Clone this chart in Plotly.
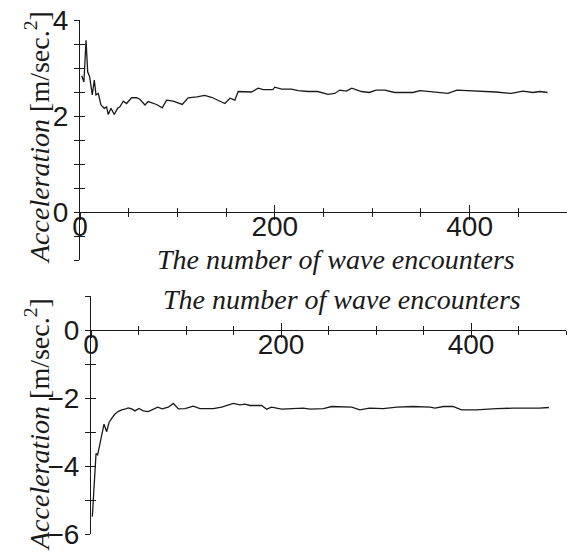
import plotly.graph_objects as go

# ---- data ----
top_n = [1.7, 4, 6.2, 7.9, 9.9, 12.6, 14.7, 16.4, 18.8, 21.5, 25, 27.3, 29, 31.8, 35.2, 38.6, 41,
         44.4, 47.8, 53, 58, 61.5, 66.7, 70, 78.6, 84.4, 88.9, 95.7, 105, 111, 120, 128, 135,
         148.7, 154, 159, 162.4, 169, 176, 183, 188, 198, 200, 207, 217, 224, 234, 244, 254.7,
         261.5, 266.7, 273.5, 279, 289, 297, 304, 313, 323, 333, 342, 349, 359, 369, 377.8,
         387, 400, 414, 427, 443, 454.7, 465, 472, 480]
top_acc = [2.84, 2.71, 3.58, 2.92, 2.82, 2.44, 2.75, 2.44, 2.47, 2.23, 2.16, 2.19, 2.03, 2.16, 2.03,
           2.16, 2.19, 2.31, 2.26, 2.38, 2.38, 2.35, 2.23, 2.30, 2.24, 2.17, 2.33, 2.31, 2.24,
           2.38, 2.40, 2.43, 2.39, 2.26, 2.37, 2.33, 2.51, 2.51, 2.50, 2.58, 2.55, 2.55, 2.60,
           2.56, 2.56, 2.53, 2.51, 2.51, 2.45, 2.47, 2.54, 2.52, 2.58, 2.51, 2.49, 2.54, 2.54,
           2.49, 2.49, 2.49, 2.53, 2.51, 2.49, 2.47, 2.54, 2.53, 2.52, 2.50, 2.47, 2.52, 2.49,
           2.51, 2.49]

bot_n = [1.4, 3.5, 5.3, 7, 8.8, 10.2, 11, 13.7, 16.5, 19, 21.8, 25, 28.5, 32.3, 36.5, 39.3, 42.8,
         46.3, 50.5, 55, 60.3, 65.6, 70.2, 75, 81.4, 86.7, 92, 99, 107.7, 114.7, 128.8, 137.5,
         149.8, 156.8, 162, 167.4, 179.6, 184.9, 190, 200.7, 213, 223.5, 230.5, 244.6, 253.3,
         265.6, 274.4, 283, 293, 307.7, 321.8, 339, 357, 362, 371, 381, 390, 405.6, 426.7,
         444, 458, 472, 482]
bot_acc = [-5.49, -4.26, -3.63, -3.67, -3.43, -3.14, -3.10, -2.77, -2.99, -2.72, -2.60, -2.48,
           -2.40, -2.35, -2.32, -2.29, -2.32, -2.38, -2.31, -2.38, -2.40, -2.34, -2.27, -2.32,
           -2.27, -2.16, -2.32, -2.31, -2.24, -2.31, -2.31, -2.27, -2.16, -2.20, -2.18, -2.22,
           -2.22, -2.33, -2.27, -2.33, -2.31, -2.30, -2.33, -2.31, -2.25, -2.27, -2.27, -2.35,
           -2.30, -2.31, -2.27, -2.25, -2.27, -2.30, -2.25, -2.25, -2.35, -2.35, -2.31, -2.30,
           -2.31, -2.30, -2.28]

x_tickvals = [0, 100, 200, 300, 400, 500]
x_ticktext = ["0", "", "200", "", "400", ""]
top_y_tickvals = [-1, -0.5, 0, 0.5, 1, 1.5, 2, 2.5, 3, 3.5, 4]
top_y_ticktext = ["", "", "0", "", "", "", "2", "", "", "", "4"]
bot_y_tickvals = [-6, -5, -4, -3, -2, -1, 0, 1]
bot_y_ticktext = ["\u22126", "", "\u22124", "", "\u22122", "", "0", ""]

x_title = "The number of wave encounters"
y_title = "<i>Acceleration</i> [m/sec.<sup>2</sup>]"

W, H = 567, 554
INK = "#1a1a1a"
TICKFONT = dict(family="Liberation Sans, Arial, sans-serif", size=28, color=INK)
TITLEFONT = dict(family="Liberation Serif, Times New Roman, serif", size=28, color=INK)
LABEL_LIFT = 5  # px: x tick labels sit a little closer to the axis line


def px_x(p):
    return p / W


def px_y(p):
    return 1 - p / H


top_xdom = [px_x(80), 1.0]
top_ydom = [px_y(260), px_y(20)]
top_xpos = px_y(212)
bot_xdom = [px_x(91), px_x(566)]
bot_ydom = [px_y(534), px_y(296)]
bot_xpos = px_y(330)

fig = go.Figure()
fig.add_trace(go.Scatter(x=top_n, y=top_acc, mode="lines", xaxis="x", yaxis="y",
                         line=dict(color=INK, width=1.3), showlegend=False, hoverinfo="skip"))
fig.add_trace(go.Scatter(x=bot_n, y=bot_acc, mode="lines", xaxis="x2", yaxis="y2",
                         line=dict(color=INK, width=1.3), showlegend=False, hoverinfo="skip"))
# invisible traces so the overlay axes get drawn
for i in range(3, 9):
    fig.add_trace(go.Scatter(x=[None], y=[None], xaxis="x%d" % i, yaxis="y%d" % i,
                             showlegend=False, hoverinfo="skip"))


def xax(dom, pos, ticks, labels, line=True):
    d = dict(domain=dom, anchor="free", position=pos, range=[0, 500],
             tickmode="array", tickvals=x_tickvals, ticktext=x_ticktext,
             ticks=ticks, ticklen=7, tickwidth=1, tickcolor=INK,
             showline=line, linecolor=INK, linewidth=1, showgrid=False, zeroline=False,
             showticklabels=labels, tickfont=TICKFONT, fixedrange=True, automargin=False)
    if ticks:
        d["minor"] = dict(dtick=50, tick0=0, ticks=ticks, ticklen=4, tickwidth=1, tickcolor=INK)
    return d


def yax(dom, rng, vals, text, anchor, ticks, labels, line=True):
    return dict(domain=dom, anchor=anchor, range=rng, tickmode="array", tickvals=vals,
                ticktext=text, ticks=ticks, ticklen=5, tickwidth=1, tickcolor=INK,
                showline=line, linecolor=INK, linewidth=1, showgrid=False, zeroline=False,
                showticklabels=labels, tickfont=TICKFONT, fixedrange=True, automargin=False)


fig.update_layout(
    width=W, height=H, margin=dict(l=0, r=0, t=0, b=0, autoexpand=False),
    paper_bgcolor="white", plot_bgcolor="rgba(0,0,0,0)",
    # main axes: lines + y labels
    xaxis=xax(top_xdom, top_xpos, "", False),
    yaxis=yax(top_ydom, [-1, 4], top_y_tickvals, top_y_ticktext, "x", "outside", True),
    xaxis2=xax(bot_xdom, bot_xpos, "", False),
    yaxis2=yax(bot_ydom, [-6, 1], bot_y_tickvals, bot_y_ticktext, "x2", "outside", True),
    # tick-only overlays so ticks cross the axis lines
    xaxis3=dict(xax(top_xdom, top_xpos, "inside", False), overlaying="x"),
    yaxis3=dict(yax(top_ydom, [-1, 4], top_y_tickvals, top_y_ticktext, "x3", "inside", False),
                overlaying="y"),
    xaxis4=dict(xax(bot_xdom, bot_xpos, "inside", False), overlaying="x2"),
    yaxis4=dict(yax(bot_ydom, [-6, 1], bot_y_tickvals, bot_y_ticktext, "x4", "inside", False),
                overlaying="y2"),
    xaxis5=dict(xax(top_xdom, top_xpos, "outside", False), overlaying="x"),
    yaxis5=dict(yax(top_ydom, [-1, 4], top_y_tickvals, top_y_ticktext, "x5", "", False),
                overlaying="y"),
    xaxis6=dict(xax(bot_xdom, bot_xpos, "outside", False), overlaying="x2"),
    yaxis6=dict(yax(bot_ydom, [-6, 1], bot_y_tickvals, bot_y_ticktext, "x6", "", False),
                overlaying="y2"),
    # x tick labels, lifted slightly toward the axis line
    xaxis7=dict(xax(top_xdom, top_xpos + LABEL_LIFT / H, "", True, line=False), overlaying="x"),
    yaxis7=dict(yax(top_ydom, [-1, 4], top_y_tickvals, top_y_ticktext, "x7", "", False,
                    line=False), overlaying="y"),
    xaxis8=dict(xax(bot_xdom, bot_xpos + LABEL_LIFT / H, "", True, line=False), overlaying="x2"),
    yaxis8=dict(yax(bot_ydom, [-6, 1], bot_y_tickvals, bot_y_ticktext, "x8", "", False,
                    line=False), overlaying="y2"),
    annotations=[
        dict(text="<i>" + x_title + "</i>", xref="paper", yref="paper", x=px_x(336), y=px_y(259),
             xanchor="center", yanchor="middle", showarrow=False, font=TITLEFONT),
        dict(text="<i>" + x_title + "</i>", xref="paper", yref="paper", x=px_x(342), y=px_y(299),
             xanchor="center", yanchor="middle", showarrow=False, font=TITLEFONT),
        dict(text=y_title, xref="paper", yref="paper", x=px_x(37), y=px_y(138), textangle=-90,
             xanchor="center", yanchor="middle", showarrow=False, font=TITLEFONT),
        dict(text=y_title, xref="paper", yref="paper", x=px_x(37), y=px_y(425), textangle=-90,
             xanchor="center", yanchor="middle", showarrow=False, font=TITLEFONT),
    ],
)

fig.write_html("out.html")
